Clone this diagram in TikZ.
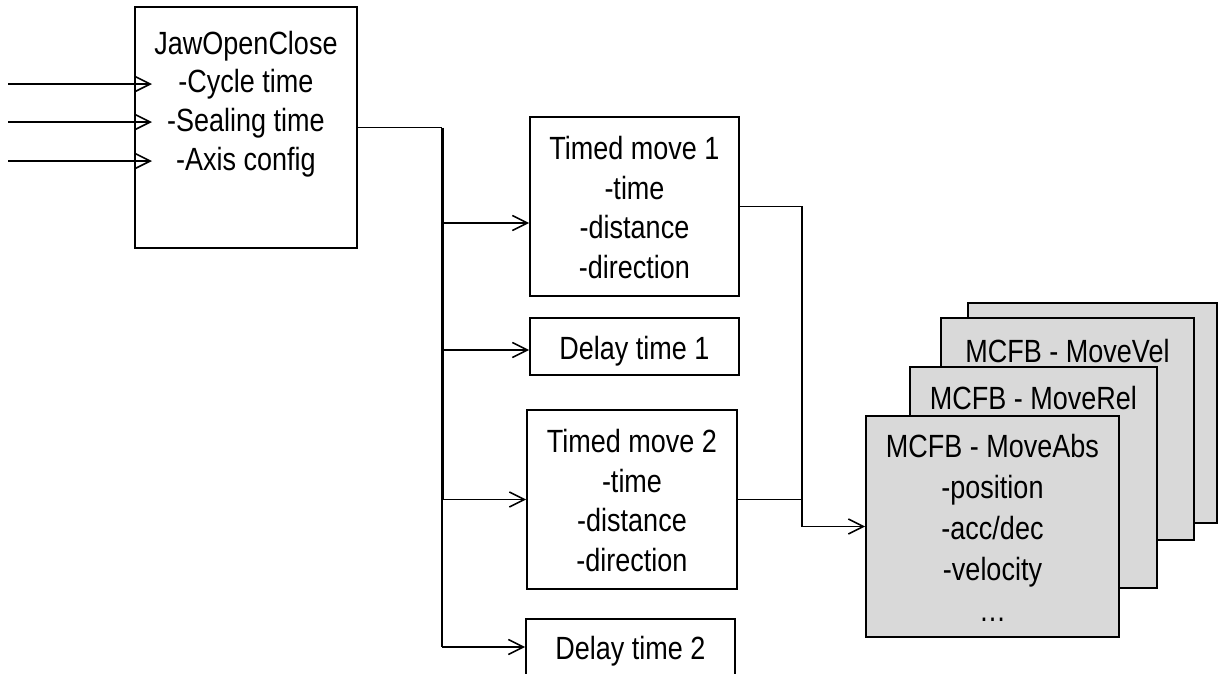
\documentclass[tikz,border=0pt]{standalone}
\usepackage{fontspec}
\usepackage{graphicx}
\setmainfont{Liberation Sans}
\usetikzlibrary{arrows.meta}
\newcommand{\vtxt}[1]{\raisebox{0pt}[\dimexpr\height+9pt\relax][\depth]{\scalebox{1}[1.19]{\begin{tabular}{@{}c@{}}#1\end{tabular}}}}
\begin{document}
\begin{tikzpicture}[x=1pt,y=-1pt,
  ln/.style={line width=1.6pt, black},
  arr/.style={ln, -{Straight Barb[length=15pt,width=15pt,line width=1.6pt]}},
  blk/.style={draw, line width=1.8pt, inner sep=0pt, align=center,
    font=\fontsize{27}{33.6}\selectfont},
  mcfb/.style={blk, fill=gray!30, font=\fontsize{27}{34.5}\selectfont},
  txt/.style={inner sep=0pt, align=center, font=\fontsize{27}{32.6}\selectfont}]
\useasboundingbox (0,0) rectangle (1224,673);

% JawOpenClose
\node[blk, minimum width=222pt, minimum height=241pt] (jaw) at (246,127.5) {};
\node[txt] (jawtext) at (246,100) {\vtxt{JawOpenClose\\-Cycle time\\-Sealing time\\-Axis config}};

% inputs
\coordinate (in1) at (8,84);
\coordinate (in2) at (8,122);
\coordinate (in3) at (8,161);
\draw[arr] (in1) -- ++(144,0);
\draw[arr] (in2) -- ++(144,0);
\draw[arr] (in3) -- ++(144,0);

% middle boxes
\node[blk, minimum width=209pt, minimum height=179pt] (tm1) at (634.5,206.5) {\vtxt{Timed move 1\\-time\\-distance\\-direction}};
\node[blk, minimum width=209pt, minimum height=57pt] (d1) at (634.5,346.5) {\vtxt{Delay time 1}};
\node[blk, minimum width=210pt, minimum height=179pt] (tm2) at (632,499.5) {\vtxt{Timed move 2\\-time\\-distance\\-direction}};
\node[blk, minimum width=209pt, minimum height=56pt] (d2) at (630.5,647) {\vtxt{Delay time 2}};

% trunk
\coordinate (t0) at (442,127.5);
\coordinate (b1) at (442,223);
\coordinate (b2) at (442,350);
\coordinate (b3) at (442,499.5);
\coordinate (b4) at (442,647);
\draw[ln] (jaw.east) -- (t0);
\draw[line width=3pt] (t0) -- (b3);
\draw[ln] (b3) -- (b4);
\draw[arr] (b1) -- (b1 -| tm1.west);
\draw[arr] (b2) -- (b2 -| d1.west);
\draw[arr] (b3) -- (tm2.west);
\draw[arr] (b4) -- (d2.west);

% MCFB stack
\node[mcfb, minimum width=249pt, minimum height=220pt] (m4) at (1092.5,413) {};
\node[mcfb, minimum width=253pt, minimum height=222pt] (m3) at (1067.5,429) {};
\node[txt] (vel) at (1067.5,350) {\vtxt{MCFB - MoveVel}};
\node[mcfb, minimum width=247pt, minimum height=221pt] (m2) at (1033.5,477.5) {};
\node[txt] (rel) at (1033.5,397) {\vtxt{MCFB - MoveRel}};
\node[mcfb, minimum width=253pt, minimum height=221pt] (m1) at (992.5,526.5) {\vtxt{MCFB - MoveAbs\\-position\\-acc/dec\\-velocity\\…}};

% right connectors
\coordinate (jn) at (802,526.5);
\draw[ln] (tm1.east) -| (jn);
\draw[ln] (tm2.east) -- (tm2.east -| jn);
\draw[arr] (jn) -- (m1.west);
\end{tikzpicture}
\end{document}
